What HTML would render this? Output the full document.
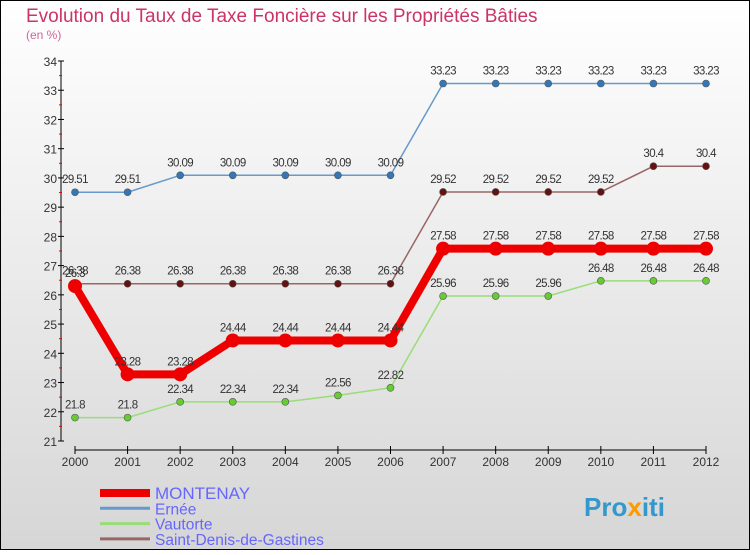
<!DOCTYPE html>
<html><head><meta charset="utf-8"><style>
html,body{margin:0;padding:0}
body{width:750px;height:550px;overflow:hidden;font-family:"Liberation Sans",sans-serif}
</style></head><body>
<svg id="chart" width="750" height="550" xmlns="http://www.w3.org/2000/svg">
<defs><linearGradient id="bg" x1="0" y1="0" x2="0" y2="1"><stop offset="0" stop-color="#ffffff"/><stop offset="1" stop-color="#d6d6d6"/></linearGradient></defs>
<rect x="0.5" y="0.5" width="749" height="549" fill="url(#bg)" stroke="#000"/>
<text x="26" y="22" font-size="19" fill="#cc3366">Evolution du Taux de Taxe Foncière sur les Propriétés Bâties</text>
<text x="26" y="39" font-size="12" fill="#cc6699">(en %)</text>
<g id="axes"></g>
<g id="series"></g>
<g id="legend"></g>
<text x="584" y="516" font-size="26" font-weight="bold" fill="#3399cc">Pro<tspan fill="#ff9900">x</tspan>iti</text>
</svg>
<script>
const years=[2000,2001,2002,2003,2004,2005,2006,2007,2008,2009,2010,2011,2012];
const yTicks=[21,22,23,24,25,26,27,28,29,30,31,32,33,34];
const montenay=[26.3,23.28,23.28,24.44,24.44,24.44,24.44,27.58,27.58,27.58,27.58,27.58,27.58];
const ernee=[29.51,29.51,30.09,30.09,30.09,30.09,30.09,33.23,33.23,33.23,33.23,33.23,33.23];
const vautorte=[21.8,21.8,22.34,22.34,22.34,22.56,22.82,25.96,25.96,25.96,26.48,26.48,26.48];
const saintDenis=[26.38,26.38,26.38,26.38,26.38,26.38,26.38,29.52,29.52,29.52,29.52,30.4,30.4];
const names=["MONTENAY","Ernée","Vautorte","Saint-Denis-de-Gastines"];
const NS="http://www.w3.org/2000/svg";
const x=i=>75+i*(706-75)/(years.length-1);
const y=v=>441-(v-21)*(441-61)/13;
function mk(tag,attrs,parent,txt){const e=document.createElementNS(NS,tag);for(const k in attrs)e.setAttribute(k,attrs[k]);if(txt!==undefined)e.textContent=txt;parent.appendChild(e);return e;}
const ax=document.getElementById('axes');
let e=mk('line',{x1:61,y1:61,x2:61,y2:441,stroke:'#000'},ax);


e=mk('line',{x1:75,y1:450,x2:706,y2:450,stroke:'#000'},ax);


yTicks.forEach((t,i)=>{
 mk('line',{x1:58,y1:y(t),x2:64,y2:y(t),stroke:'#000'},ax);
 if(i<yTicks.length-1)mk('line',{x1:59,y1:y(t+0.5),x2:62,y2:y(t+0.5),stroke:'#e00'},ax);
 e=mk('text',{x:57,y:y(t)+5,'font-size':12,'text-anchor':'end',fill:'#333'},ax,String(t));
 
 
});
years.forEach((yr,i)=>{
 mk('line',{x1:x(i),y1:446,x2:x(i),y2:454,stroke:'#000'},ax);
 e=mk('text',{x:x(i),y:466,'font-size':12,'text-anchor':'middle',fill:'#333'},ax,String(yr));
 
 
});
const sg=document.getElementById('series');
const defs=[[ernee,'#6699cc','#3377bb',1.5,3.5],[vautorte,'#99dd77','#66cc33',1.5,3.5],[saintDenis,'#996666','#661111',1.5,3.5],[montenay,'#ee0000','#ee0000',8,7]];
const snames=['ernee','vautorte','saint-denis','montenay'];
defs.forEach((d,k)=>{
 const g=mk('g',{},sg);
 
 
 mk('polyline',{points:d[0].map((v,i)=>x(i)+','+y(v)).join(' '),fill:'none',stroke:d[1],'stroke-width':d[3],'stroke-linejoin':'round'},g);
 d[0].forEach((v,i)=>{
  const c=mk('circle',{cx:x(i),cy:y(v),r:d[4],fill:d[2],stroke:k==3?'#ee0000':'#555','stroke-width':k==3?0:0.6},g);
  
  
  const t=mk('text',{x:x(i),y:y(v)-9,'font-size':11.5,'text-anchor':'middle',fill:'#333','letter-spacing':'-0.6'},g,String(v));
  
  
 });
});
const lg=document.getElementById('legend');
const lcol=['#ee0000','#6699cc','#99dd77','#996666'],lw=[8,3,3,3];
names.forEach((n,i)=>{
 const yy=493+i*15.3;
 const g=mk('g',{},lg);
 
 
 mk('line',{x1:100,y1:yy,x2:150,y2:yy,stroke:lcol[i],'stroke-width':lw[i]},g);
 mk('text',{x:155,y:yy+6,'font-size':i==0?17:15.5,fill:'#6666ff'},g,n);
});
</script>
</body></html>
